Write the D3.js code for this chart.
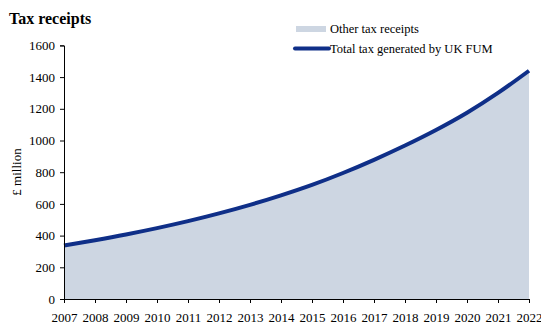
<!DOCTYPE html>
<html><head><meta charset="utf-8">
<script src="https://cdn.jsdelivr.net/npm/d3@7"></script>
<style>body{margin:0;background:#fff}svg{display:block;font-family:"Liberation Serif","Times New Roman",serif}</style>
</head><body>
<svg id="c" width="541" height="322"></svg>
<script>
const years = [2007,2008,2009,2010,2011,2012,2013,2014,2015,2016,2017,2018,2019,2020,2021,2022];
const totalTax = [338,371,407,447,491,540,594,654,720,795,878,968,1066,1175,1300,1440];
const yTicks = [0,200,400,600,800,1000,1200,1400,1600];
const legendLabels = ["Other tax receipts","Total tax generated by UK FUM"];

const svg = d3.select("#c");
const x = d3.scaleLinear().domain([2007,2022]).range([64,529]);
const y = d3.scaleLinear().domain([0,1600]).range([299,45.4]);
const data = years.map((yr,i)=>({yr,v:totalTax[i]}));

svg.append("path").datum(data)
  .attr("d", d3.area().x(d=>x(d.yr)).y0(y(0)).y1(d=>y(d.v)).curve(d3.curveMonotoneX))
  .attr("fill","#cdd6e2");
svg.append("path").datum(data)
  .attr("d", d3.line().x(d=>x(d.yr)).y(d=>y(d.v)).curve(d3.curveMonotoneX))
  .attr("fill","none").attr("stroke","#0f2f88").attr("stroke-width",4);

const ya = svg.append("g").attr("transform","translate(64,0)")
  .call(d3.axisLeft(y).tickValues(yTicks).tickSize(4).tickPadding(5).tickFormat(d3.format("d")));
const xa = svg.append("g").attr("transform","translate(0,299)")
  .call(d3.axisBottom(x).tickValues(years).tickSize(4).tickPadding(10).tickFormat(d3.format("d")));
[ya,xa].forEach(a=>{
  a.select(".domain").attr("stroke","#000");
  a.selectAll(".tick line").attr("stroke","#000");
  a.selectAll("text").attr("font-family","Liberation Serif, serif").attr("font-size",13).attr("fill","#000");
});

svg.append("text").attr("x",9).attr("y",24).attr("font-size",16).attr("font-weight","bold").text("Tax receipts");
svg.append("text").attr("transform","translate(21,172) rotate(-90)").attr("text-anchor","middle")
  .attr("font-size",13).text("£ million");

svg.append("rect").attr("x",296).attr("y",26).attr("width",30).attr("height",6).attr("fill","#cdd6e2");
svg.append("text").attr("x",330).attr("y",33).attr("font-size",12.5).text(legendLabels[0]);
svg.append("line").attr("x1",295).attr("x2",329).attr("y1",48.5).attr("y2",48.5)
  .attr("stroke","#0f2f88").attr("stroke-width",4).attr("stroke-linecap","round");
svg.append("text").attr("x",330).attr("y",53).attr("font-size",12.5).text(legendLabels[1]);
</script>
</body></html>
